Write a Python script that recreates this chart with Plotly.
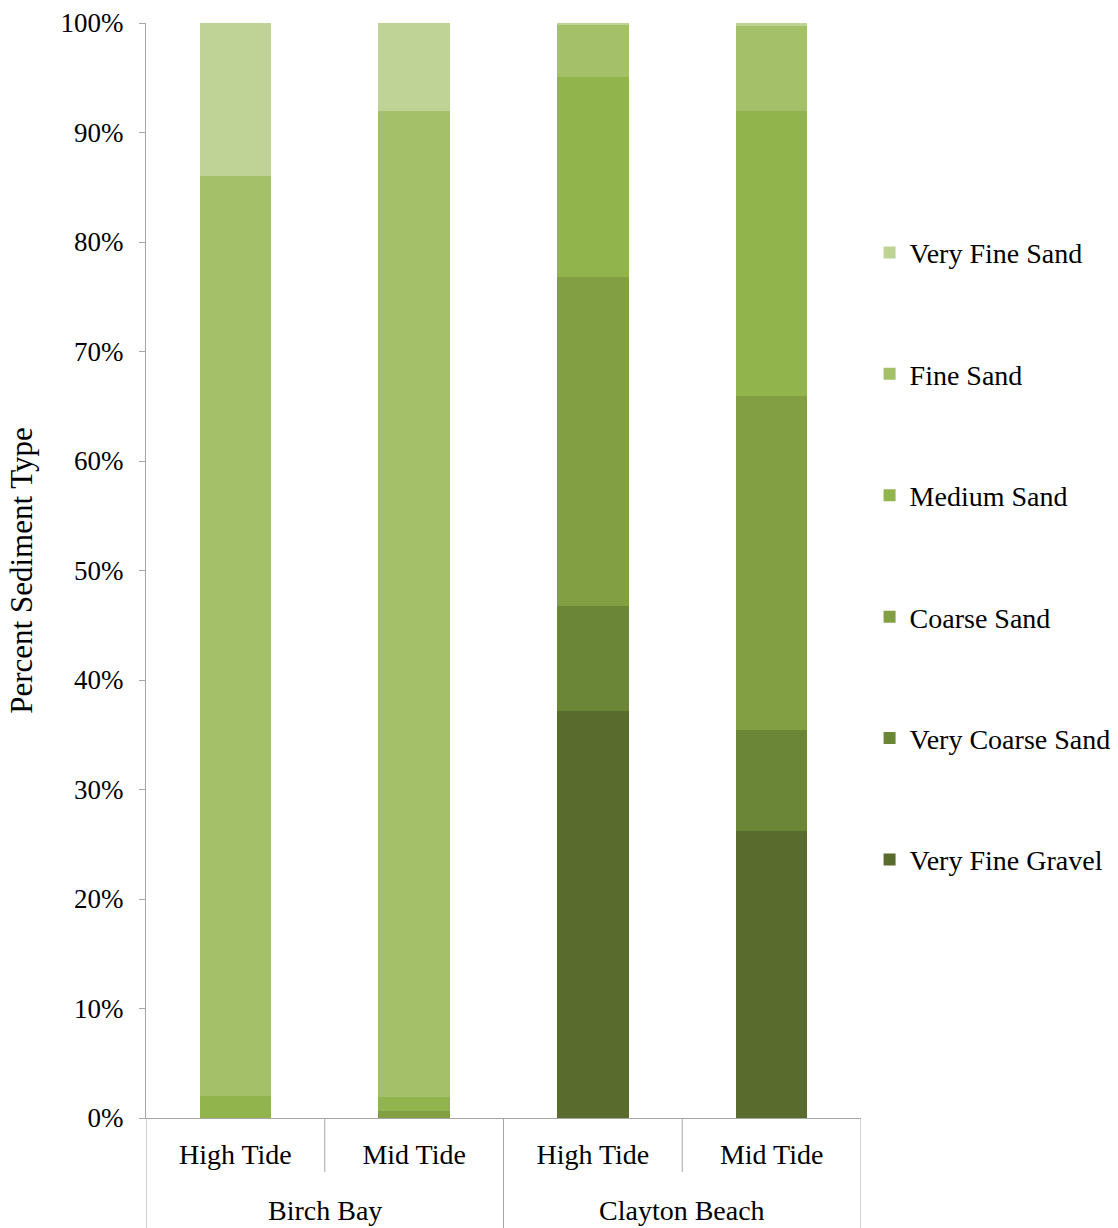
import plotly.graph_objects as go

sites = ["Birch Bay", "Birch Bay", "Clayton Beach", "Clayton Beach"]
tides = ["High Tide", "Mid Tide", "High Tide", "Mid Tide"]

series_names = ["Very Fine Gravel", "Very Coarse Sand", "Coarse Sand",
                "Medium Sand", "Fine Sand", "Very Fine Sand"]
very_fine_gravel = [0.0, 0.0, 37.2, 26.2]
very_coarse_sand = [0.0, 0.0, 9.6, 9.2]
coarse_sand = [0.0, 0.6, 30.0, 30.5]
medium_sand = [2.0, 1.35, 18.3, 26.1]
fine_sand = [84.0, 90.05, 4.8, 7.7]
very_fine_sand = [14.0, 8.0, 0.1, 0.3]
colors = ["#5a6b2e", "#6a8636", "#829f43", "#92b44c", "#a4c16a", "#bfd397"]

values = [very_fine_gravel, very_coarse_sand, coarse_sand,
          medium_sand, fine_sand, very_fine_sand]

font_family = "Liberation Serif, Times New Roman, serif"
axis_col = "#a6a6a6"

xpos = list(range(len(tides)))

fig = go.Figure()
n = len(series_names)
for k, (name, vals, col) in enumerate(zip(series_names, values, colors)):
    fig.add_trace(go.Bar(
        x=xpos, y=[v / 100 for v in vals], name=name,
        marker=dict(color=col, line=dict(width=0)), legendgroup=name,
        legendrank=n - k,
    ))

# plot geometry
L, R, T, B = 146, 257, 23, 110
H = 1228 - T - B

# group (site) labels and dividers, positions derived from category indices
unique_sites = []
for s in sites:
    if s not in unique_sites:
        unique_sites.append(s)
annotations = []
shapes = []
for s in unique_sites:
    idx = [i for i, v in enumerate(sites) if v == s]
    annotations.append(dict(
        x=sum(idx) / len(idx), y=0, xref="x", yref="paper",
        yshift=-92, text=s, showarrow=False, yanchor="middle",
        font=dict(size=28, family=font_family, color="black"),
    ))

boundaries = [i - 0.5 for i in xpos] + [xpos[-1] + 0.5]
for j, b in enumerate(boundaries):
    if j == 0 or j == len(boundaries) - 1 or sites[j - 1] != sites[j]:
        depth = B
    else:
        depth = 54
    shapes.append(dict(
        type="line", xref="x", yref="paper", x0=b, x1=b, y0=0, y1=-depth / H,
        line=dict(color=axis_col, width=1), layer="above",
    ))

fig.update_layout(
    barmode="stack",
    bargap=0.6,
    width=1118, height=1228,
    margin=dict(l=L, r=R, t=T, b=B, autoexpand=False),
    plot_bgcolor="white", paper_bgcolor="white",
    font=dict(family=font_family, size=28, color="black"),
    legend=dict(
        x=1.012, y=0.513, xanchor="left", yanchor="middle",
        traceorder="grouped", tracegroupgap=82,
        font=dict(size=28), itemwidth=30,
    ),
    yaxis=dict(
        range=[0, 1], dtick=0.1, tickformat=".0%", showgrid=False,
        showline=True, linecolor=axis_col, linewidth=1,
        ticks="outside", ticklen=6, tickcolor=axis_col,
        ticklabelstandoff=10, automargin=False,
        title=dict(text="Percent Sediment Type", font=dict(size=31), standoff=18),
        tickfont=dict(size=27), zeroline=False,
    ),
    xaxis=dict(
        range=[-0.5, len(tides) - 0.5],
        tickmode="array", tickvals=xpos, ticktext=tides,
        showline=True, linecolor=axis_col, linewidth=1, showgrid=False,
        ticks="", ticklabelstandoff=11, zeroline=False, automargin=False,
        tickfont=dict(size=28),
    ),
    annotations=annotations,
    shapes=shapes,
)

fig.write_html(
    "out.html",
    config={"displayModeBar": False},
    post_script="document.body.style.margin='0px';document.body.style.overflow='hidden';",
)
